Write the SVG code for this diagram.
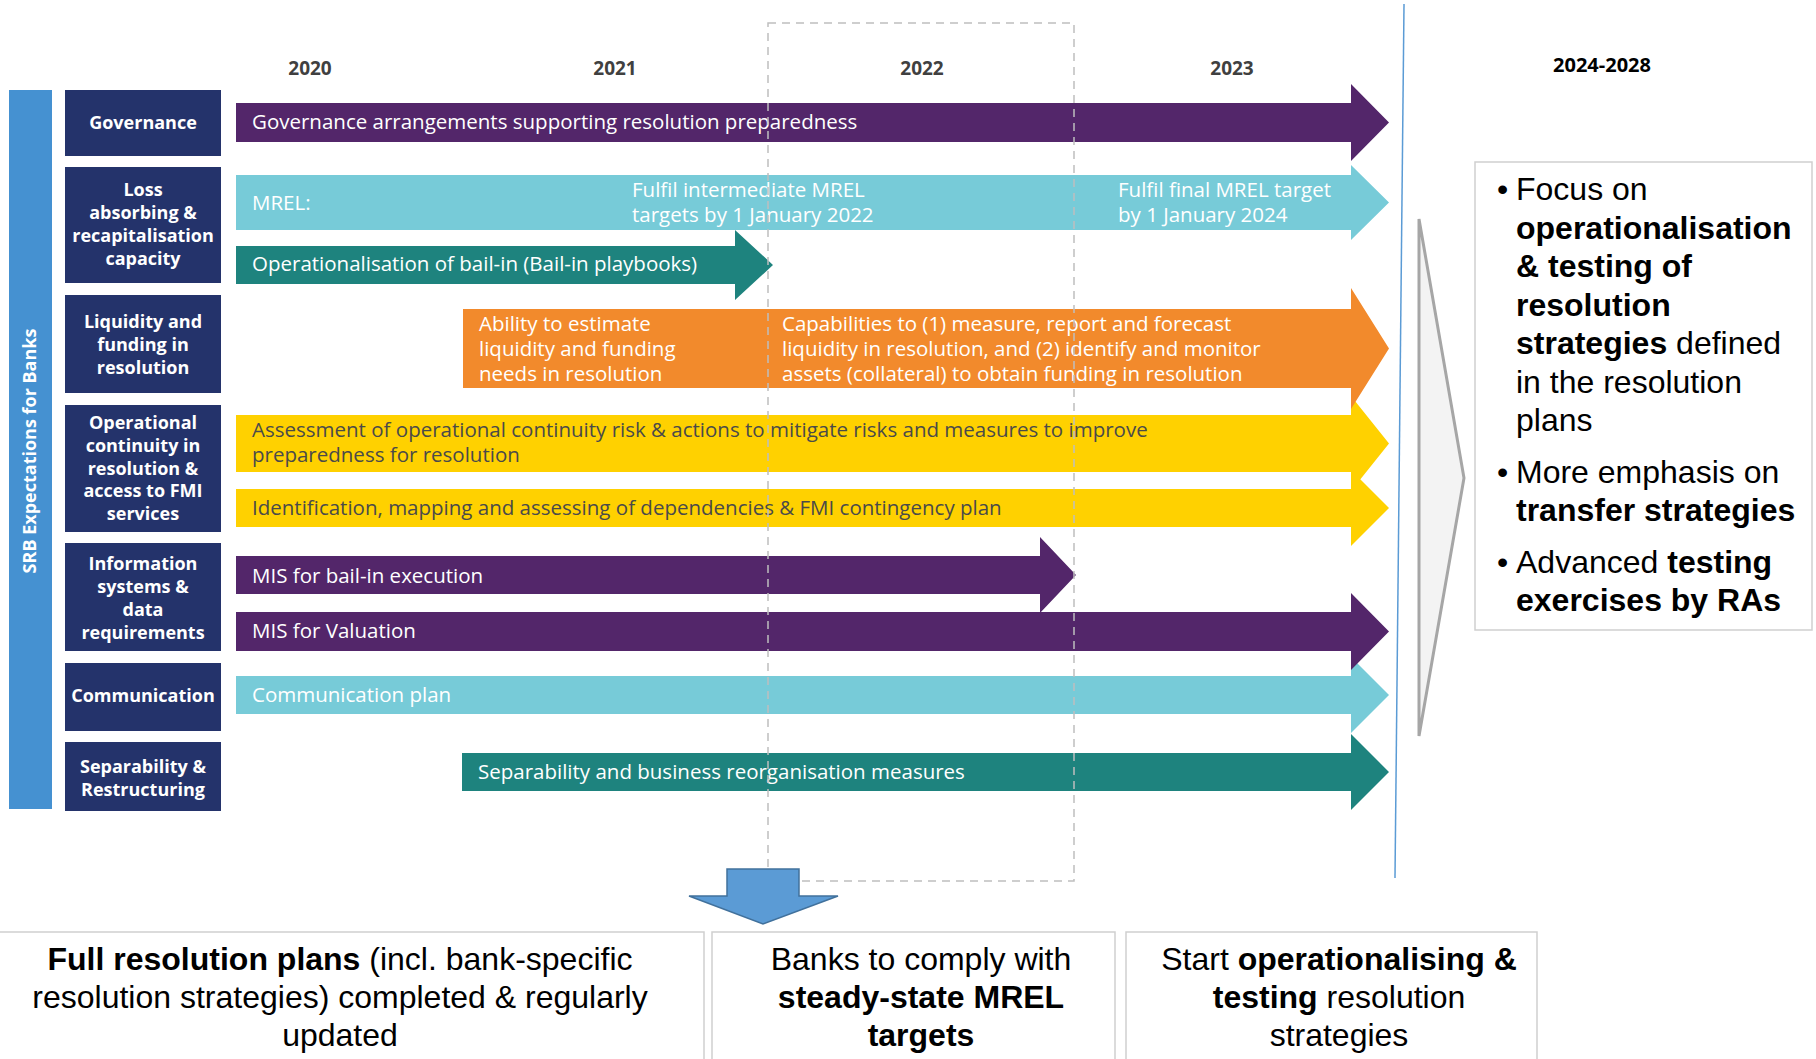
<svg xmlns="http://www.w3.org/2000/svg" width="1816" height="1059" viewBox="0 0 1816 1059">
<style>
.cat{fill:#24336b}
.ct{font-family:"Open Sans",sans-serif;font-weight:700;font-size:18px;fill:#fff;text-anchor:middle}
.yr{font-family:"Open Sans",sans-serif;font-weight:700;font-size:19px;fill:#404040;text-anchor:middle}
.at{font-family:"Open Sans",sans-serif;font-size:20.5px;fill:#fff}
.atd{font-family:"Open Sans",sans-serif;font-size:20.5px;fill:#4a4a4a}
.pur{fill:#53266a}.lb{fill:#77cbd8}.tl{fill:#1e837e}.or{fill:#f28a2c}.ye{fill:#ffd100}
.rt{font-family:"Liberation Sans",Arial,sans-serif;font-size:32px;fill:#000}
.bt{font-family:"Liberation Sans",Arial,sans-serif;font-size:32px;fill:#000;text-anchor:middle}
.b{font-weight:700}
.box{fill:#fff;stroke:#cfcfcf;stroke-width:1.5}
</style>
<rect width="1816" height="1059" fill="#fff"/>

<g id="years">
<text class="yr" x="310" y="75">2020</text>
<text class="yr" x="615" y="75">2021</text>
<text class="yr" x="922" y="75">2022</text>
<text class="yr" x="1232" y="75">2023</text>
<text x="1602" y="72" font-family="'Open Sans',sans-serif" font-weight="700" font-size="20" fill="#000" text-anchor="middle">2024-2028</text>
</g>

<g id="srb-bar">
<rect x="9" y="90" width="43" height="719" fill="#4591d1"/>
<text transform="translate(36 451) rotate(-90)" font-family="'Open Sans',sans-serif" font-weight="700" font-size="18" fill="#fff" text-anchor="middle">SRB Expectations for Banks</text>
</g>

<g id="cat-governance"><rect class="cat" x="65" y="90" width="156" height="66"/>
<text class="ct" x="143" y="129">Governance</text></g>
<g id="cat-loss"><rect class="cat" x="65" y="167" width="156" height="116"/>
<text class="ct" x="143" y="196">Loss</text><text class="ct" x="143" y="219">absorbing &amp;</text><text class="ct" x="143" y="242">recapitalisation</text><text class="ct" x="143" y="265">capacity</text></g>
<g id="cat-liquidity"><rect class="cat" x="65" y="295" width="156" height="98"/>
<text class="ct" x="143" y="328">Liquidity and</text><text class="ct" x="143" y="351">funding in</text><text class="ct" x="143" y="374">resolution</text></g>
<g id="cat-operational"><rect class="cat" x="65" y="405" width="156" height="127"/>
<text class="ct" x="143" y="429">Operational</text><text class="ct" x="143" y="452">continuity in</text><text class="ct" x="143" y="475">resolution &amp;</text><text class="ct" x="143" y="497">access to FMI</text><text class="ct" x="143" y="520">services</text></g>
<g id="cat-information"><rect class="cat" x="65" y="543" width="156" height="108"/>
<text class="ct" x="143" y="570">Information</text><text class="ct" x="143" y="593">systems &amp;</text><text class="ct" x="143" y="616">data</text><text class="ct" x="143" y="639">requirements</text></g>
<g id="cat-communication"><rect class="cat" x="65" y="663" width="156" height="68"/>
<text class="ct" x="143" y="702">Communication</text></g>
<g id="cat-separability"><rect class="cat" x="65" y="742" width="156" height="69"/>
<text class="ct" x="143" y="773">Separability &amp;</text><text class="ct" x="143" y="796">Restructuring</text></g>

<g id="arrow-governance"><path class="pur" d="M236 103H1351V84L1389 122.5L1351 161V142H236Z"/>
<text class="at" x="252" y="129">Governance arrangements supporting resolution preparedness</text></g>
<g id="arrow-mrel"><path class="lb" d="M236 175H1351V165L1389 202.5L1351 240V230H236Z"/>
<text class="at" x="252" y="210">MREL:</text>
<text class="at" x="632" y="197">Fulfil intermediate MREL</text><text class="at" x="632" y="222">targets by 1 January 2022</text>
<text class="at" x="1118" y="197">Fulfil final MREL target</text><text class="at" x="1118" y="222">by 1 January 2024</text></g>
<g id="arrow-bailin"><path class="tl" d="M236 246H735V230L773 265L735 300V284H236Z"/>
<text class="at" x="252" y="271">Operationalisation of bail-in (Bail-in playbooks)</text></g>
<g id="arrow-yellow1"><path class="ye" d="M236 415H1351V396L1389 443.5L1351 491V472H236Z"/>
<text class="atd" x="252" y="437">Assessment of operational continuity risk &amp; actions to mitigate risks and measures to improve</text>
<text class="atd" x="252" y="462">preparedness for resolution</text></g>
<g id="arrow-liquidity"><path class="or" d="M463 309H1351V288L1389 348.5L1351 409V388H463Z"/>
<text class="at" x="479" y="331">Ability to estimate</text><text class="at" x="479" y="356">liquidity and funding</text><text class="at" x="479" y="381">needs in resolution</text>
<text class="at" x="782" y="331">Capabilities to (1) measure, report and forecast</text><text class="at" x="782" y="356">liquidity in resolution, and (2) identify and monitor</text><text class="at" x="782" y="381">assets (collateral) to obtain funding in resolution</text></g>
<g id="arrow-yellow2"><path class="ye" d="M236 489H1351V470L1389 508L1351 546V527H236Z"/>
<text class="atd" x="252" y="515">Identification, mapping and assessing of dependencies &amp; FMI contingency plan</text></g>
<g id="arrow-misbail"><path class="pur" d="M236 556H1040V537L1076 575L1040 613V594H236Z"/>
<text class="at" x="252" y="583">MIS for bail-in execution</text></g>
<g id="arrow-communication"><path class="lb" d="M236 676H1351V657L1389 695L1351 733V714H236Z"/>
<text class="at" x="252" y="702">Communication plan</text></g>
<g id="arrow-misval"><path class="pur" d="M236 612H1351V593L1389 631.5L1351 670V651H236Z"/>
<text class="at" x="252" y="638">MIS for Valuation</text></g>
<g id="arrow-separability"><path class="tl" d="M462 753H1351V734L1389 772L1351 810V791H462Z"/>
<text class="at" x="478" y="779">Separability and business reorganisation measures</text></g>

<g id="window-2022">
<rect x="768" y="23" width="306" height="858" fill="none" stroke="#bfbfbf" stroke-width="1.5" stroke-dasharray="8 6"/>
</g>

<g id="connectors">
<line x1="1404" y1="4" x2="1395" y2="878" stroke="#5b9bd5" stroke-width="1.5"/>
<path d="M1419 219L1464 478L1419 736Z" fill="#f3f3f3" stroke="#a6a6a6" stroke-width="3" stroke-linejoin="miter"/>
<path d="M727 869H799V896H838L763 924L689 896H727Z" fill="#5b9bd5" stroke="#41719c" stroke-width="1.5"/>
</g>

<g id="outlook-box">
<rect class="box" x="1475" y="162" width="337" height="468"/>
<text class="rt" x="1497" y="200">•</text><text class="rt" x="1516" y="200">Focus on</text>
<text class="rt b" x="1516" y="238.5">operationalisation</text>
<text class="rt b" x="1516" y="277">&amp; testing of</text>
<text class="rt b" x="1516" y="315.5">resolution</text>
<text class="rt" x="1516" y="354"><tspan class="b">strategies</tspan> defined</text>
<text class="rt" x="1516" y="392.5">in the resolution</text>
<text class="rt" x="1516" y="431">plans</text>
<text class="rt" x="1497" y="483">•</text><text class="rt" x="1516" y="483">More emphasis on</text>
<text class="rt b" x="1516" y="521">transfer strategies</text>
<text class="rt" x="1497" y="573">•</text><text class="rt" x="1516" y="573">Advanced <tspan class="b">testing</tspan></text>
<text class="rt b" x="1516" y="611">exercises by RAs</text>
</g>

<g id="milestone-plans">
<rect class="box" x="-10" y="932" width="714" height="140"/>
<text class="bt" x="340" y="970"><tspan class="b">Full resolution plans</tspan> (incl. bank-specific</text>
<text class="bt" x="340" y="1008">resolution strategies) completed &amp; regularly</text>
<text class="bt" x="340" y="1046">updated</text>
</g>
<g id="milestone-mrel">
<rect class="box" x="712" y="932" width="403" height="140"/>
<text class="bt" x="921" y="970">Banks to comply with</text>
<text class="bt b" x="921" y="1008">steady-state MREL</text>
<text class="bt b" x="921" y="1046">targets</text>
</g>
<g id="milestone-testing">
<rect class="box" x="1126" y="932" width="411" height="140"/>
<text class="bt" x="1339" y="970">Start <tspan class="b">operationalising &amp;</tspan></text>
<text class="bt" x="1339" y="1008"><tspan class="b">testing</tspan> resolution</text>
<text class="bt" x="1339" y="1046">strategies</text>
</g>
</svg>
